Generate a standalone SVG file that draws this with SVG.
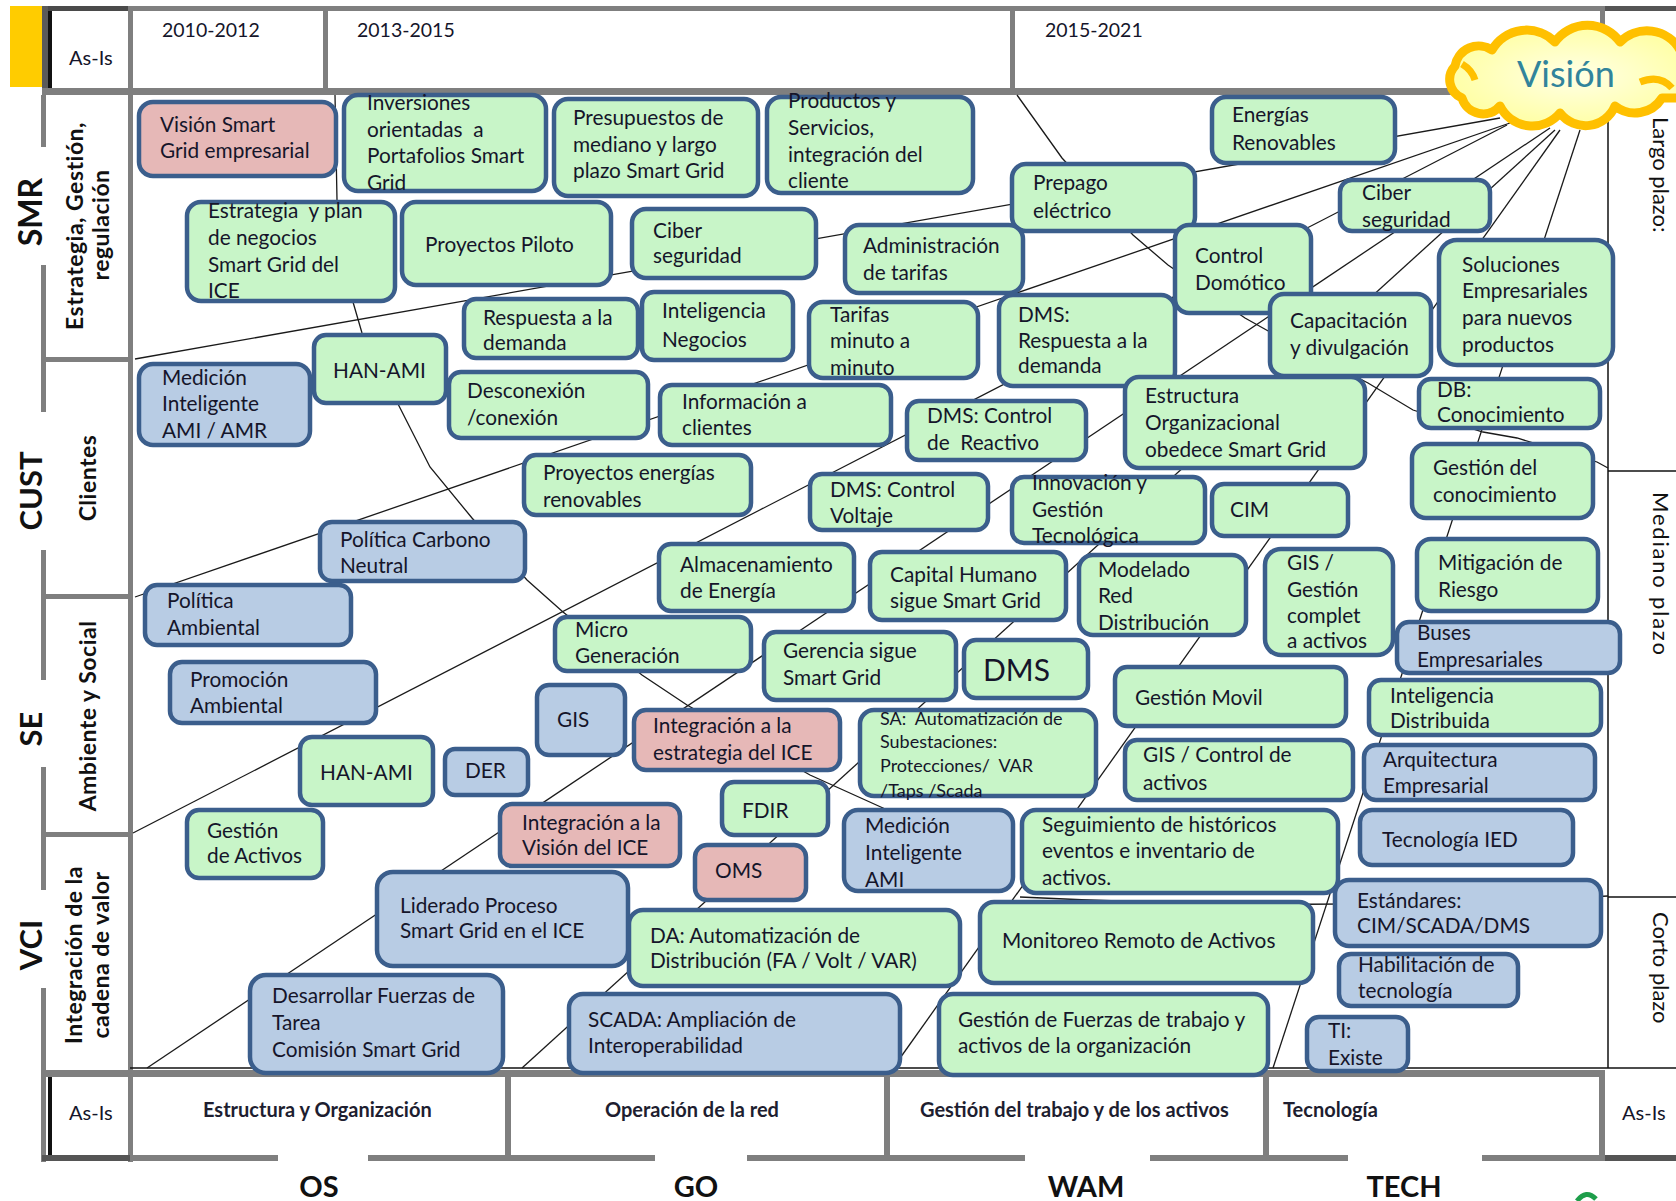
<svg xmlns="http://www.w3.org/2000/svg" width="1676" height="1201" viewBox="0 0 1676 1201">
<style>
.g{fill:#C8F5C8;stroke:#3B5E8C;stroke-width:4.5}
.b{fill:#B8CCE4;stroke:#3B5E8C;stroke-width:4.5}
.p{fill:#E6B8B7;stroke:#3B5E8C;stroke-width:4.5}
.t{font-family:Lato,"Liberation Sans",sans-serif;font-size:20.8px;fill:#15152A;white-space:pre}
.s{font-size:18px}
.big{font-size:30px}
.h{font-family:Lato,"Liberation Sans",sans-serif;font-size:19.5px;fill:#15152A}
.a{font-family:Lato,"Liberation Sans",sans-serif;font-size:20px;fill:#15152A}
.bl{font-family:Lato,"Liberation Sans",sans-serif;font-size:20px;font-weight:bold;fill:#1E1E30}
.rv{font-family:Lato,"Liberation Sans",sans-serif;font-size:22px;fill:#111}
.k{font-family:Lato,"Liberation Sans",sans-serif;font-weight:bold;fill:#111}
.lab{font-family:Lato,"Liberation Sans",sans-serif;font-weight:bold;font-size:23px;letter-spacing:0.5px;fill:#111}
.gr{fill:#7F7F7F}
.ln{stroke:#1A1A1A;stroke-width:1.3;fill:none}
</style>
<rect width="1676" height="1201" fill="#fff"/>
<g id="frame">
<rect x="10" y="6" width="32" height="81" fill="#FFCC00"/>
<rect class="gr" x="42" y="6" width="1634" height="5"/>
<rect x="42" y="6" width="86" height="5" fill="#4A4A4A"/>
<rect x="1605" y="6" width="71" height="5" fill="#555"/>
<rect x="42" y="6" width="6" height="82" fill="#5A5A5A"/>
<rect x="48" y="11" width="4" height="77" fill="#111"/>
<rect class="gr" x="128" y="6" width="5" height="1156"/>
<rect class="gr" x="323" y="6" width="5" height="86"/>
<rect class="gr" x="1010" y="6" width="5" height="86"/>
<rect class="gr" x="1600" y="6" width="5" height="86"/>
<rect class="gr" x="42" y="88" width="1563" height="7"/>
<rect class="gr" x="41" y="95" width="5" height="52"/>
<rect class="gr" x="41" y="265" width="5" height="147"/>
<rect class="gr" x="41" y="550" width="5" height="130"/>
<rect class="gr" x="41" y="767" width="5" height="123"/>
<rect class="gr" x="41" y="988" width="5" height="174"/>
<rect class="gr" x="43" y="357" width="88" height="5"/>
<rect class="gr" x="43" y="594" width="88" height="5"/>
<rect class="gr" x="43" y="832" width="88" height="5"/>
<line x1="130" y1="1068" x2="1676" y2="1068" stroke="#111" stroke-width="1.5"/>
<rect class="gr" x="42" y="1070" width="1563" height="7"/>
<rect x="48" y="1077" width="4" height="82" fill="#111"/>
<rect class="gr" x="505" y="1072" width="6" height="88"/>
<rect class="gr" x="884" y="1072" width="6" height="88"/>
<rect class="gr" x="1263" y="1072" width="6" height="88"/>
<rect class="gr" x="1599" y="1072" width="6" height="88"/>
<rect class="gr" x="42" y="1155" width="236" height="6"/>
<rect x="42" y="1155" width="88" height="6" fill="#555"/>
<rect class="gr" x="368" y="1155" width="287" height="6"/>
<rect class="gr" x="747" y="1155" width="278" height="6"/>
<rect class="gr" x="1150" y="1155" width="198" height="6"/>
<rect class="gr" x="1482" y="1155" width="194" height="6"/>
<rect x="1605" y="1155" width="71" height="6" fill="#555"/>
<line x1="1608" y1="112" x2="1608" y2="1068" stroke="#111" stroke-width="1.5"/>
<line x1="1608" y1="471" x2="1676" y2="471" stroke="#111" stroke-width="1.5"/>
<line x1="1608" y1="897" x2="1676" y2="897" stroke="#111" stroke-width="1.5"/>
<path d="M1577,1201 Q1586,1189 1596,1199" fill="none" stroke="#1E9E4A" stroke-width="5"/>
</g>
<g id="labels">
<text class="a" x="69" y="65">As-Is</text>
<text class="h" x="162" y="37">2010-2012</text>
<text class="h" x="357" y="37">2013-2015</text>
<text class="h" x="1045" y="37">2015-2021</text>
<text class="a" x="69" y="1120">As-Is</text>
<text class="bl" x="203" y="1117">Estructura y Organización</text>
<text class="bl" x="605" y="1117">Operación de la red</text>
<text class="bl" x="920" y="1117">Gestión del trabajo y de los activos</text>
<text class="bl" x="1283" y="1117">Tecnología</text>
<text class="a" x="1622" y="1120">As-Is</text>
<text class="k" x="319" y="1197" font-size="29" text-anchor="middle">OS</text>
<text class="k" x="696" y="1197" font-size="29" text-anchor="middle">GO</text>
<text class="k" x="1086" y="1197" font-size="29" text-anchor="middle">WAM</text>
<text class="k" x="1404" y="1197" font-size="29" text-anchor="middle">TECH</text>
<text class="k" font-size="32" text-anchor="middle" transform="translate(42,212) rotate(-90)">SMR</text>
<text class="k" font-size="31" text-anchor="middle" transform="translate(42,491) rotate(-90)">CUST</text>
<text class="k" font-size="31" text-anchor="middle" transform="translate(42,729) rotate(-90)">SE</text>
<text class="k" font-size="31" text-anchor="middle" transform="translate(42,945) rotate(-90)">VCI</text>
<text class="lab" text-anchor="middle" transform="translate(83,226) rotate(-90)">Estrategia, Gestión,</text>
<text class="lab" text-anchor="middle" transform="translate(109,225) rotate(-90)">regulación</text>
<text class="lab" text-anchor="middle" transform="translate(96,478) rotate(-90)">Clientes</text>
<text class="lab" text-anchor="middle" transform="translate(96,716) rotate(-90)">Ambiente y Social</text>
<text class="lab" text-anchor="middle" transform="translate(82,955) rotate(-90)">Integración de la</text>
<text class="lab" text-anchor="middle" transform="translate(109,955) rotate(-90)">cadena de valor</text>
<text class="rv" transform="translate(1653,117) rotate(90)">Largo plazo:</text>
<text class="rv" letter-spacing="1.8" transform="translate(1653,492) rotate(90)">Mediano plazo</text>
<text class="rv" transform="translate(1653,912) rotate(90)">Corto plazo</text>
</g>
<g id="connectors">
<line class="ln" x1="135" y1="359" x2="1500" y2="118"/>
<line class="ln" x1="135" y1="597" x2="1510" y2="123"/>
<line class="ln" x1="133" y1="833" x2="1507" y2="125"/>
<line class="ln" x1="147" y1="1068" x2="1550" y2="128"/>
<line class="ln" x1="522" y1="1068" x2="1555" y2="130"/>
<line class="ln" x1="893" y1="1068" x2="1560" y2="130"/>
<line class="ln" x1="1273" y1="1068" x2="1580" y2="130"/>
<polyline class="ln" points="335,95 337,200 353,302 362,333 430,467 472,518 527,580 563,612 642,675 687,705 810,775 883,808 905,818"/>
<polyline class="ln" points="1017,95 1062,158 1133,235 1168,265 1245,318 1270,332 1368,383 1413,410 1483,432 1517,438 1597,462 1608,468"/>
<path class="ln" d="M1020,897 Q1320,912 1608,896"/>
</g>
<g id="nodes">
<g id="n_vision_sg"><rect class="p" x="139" y="102" width="197" height="74" rx="14"/><text class="t"><tspan x="160" y="132">Visión Smart</tspan><tspan x="160" y="158">Grid empresarial</tspan></text></g>
<g id="n_inversiones"><rect class="g" x="344" y="95" width="202" height="96" rx="14"/><text class="t"><tspan x="367" y="110">Inversiones</tspan><tspan x="367" y="137">orientadas  a</tspan><tspan x="367" y="163">Portafolios Smart</tspan><tspan x="367" y="190">Grid</tspan></text></g>
<g id="n_presupuestos"><rect class="g" x="554" y="99" width="204" height="97" rx="14"/><text class="t"><tspan x="573" y="125">Presupuestos de</tspan><tspan x="573" y="152">mediano y largo</tspan><tspan x="573" y="178">plazo Smart Grid</tspan></text></g>
<g id="n_productos"><rect class="g" x="767" y="97" width="206" height="96" rx="14"/><text class="t"><tspan x="788" y="108">Productos y</tspan><tspan x="788" y="135">Servicios,</tspan><tspan x="788" y="162">integración del</tspan><tspan x="788" y="188">cliente</tspan></text></g>
<g id="n_estrategia"><rect class="g" x="187" y="202" width="208" height="99" rx="14"/><text class="t"><tspan x="208" y="218">Estrategia  y plan</tspan><tspan x="208" y="245">de negocios</tspan><tspan x="208" y="272">Smart Grid del</tspan><tspan x="208" y="298">ICE</tspan></text></g>
<g id="n_piloto"><rect class="g" x="402" y="202" width="209" height="83" rx="14"/><text class="t"><tspan x="425" y="252">Proyectos Piloto</tspan></text></g>
<g id="n_ciber1"><rect class="g" x="632" y="209" width="184" height="69" rx="14"/><text class="t"><tspan x="653" y="238">Ciber</tspan><tspan x="653" y="263">seguridad</tspan></text></g>
<g id="n_energias"><rect class="g" x="1212" y="97" width="183" height="66" rx="14"/><text class="t"><tspan x="1232" y="122">Energías</tspan><tspan x="1232" y="150">Renovables</tspan></text></g>
<g id="n_prepago"><rect class="g" x="1012" y="164" width="183" height="67" rx="14"/><text class="t"><tspan x="1033" y="190">Prepago</tspan><tspan x="1033" y="218">eléctrico</tspan></text></g>
<g id="n_admin"><rect class="g" x="845" y="225" width="178" height="68" rx="14"/><text class="t"><tspan x="863" y="253">Administración</tspan><tspan x="863" y="280">de tarifas</tspan></text></g>
<g id="n_ciber2"><rect class="g" x="1340" y="180" width="150" height="51" rx="12"/><text class="t"><tspan x="1362" y="200">Ciber</tspan><tspan x="1362" y="227">seguridad</tspan></text></g>
<g id="n_domotico"><rect class="g" x="1175" y="225" width="136" height="88" rx="14"/><text class="t"><tspan x="1195" y="263">Control</tspan><tspan x="1195" y="290">Domótico</tspan></text></g>
<g id="n_soluciones"><rect class="g" x="1439" y="240" width="174" height="125" rx="18"/><text class="t"><tspan x="1462" y="272">Soluciones</tspan><tspan x="1462" y="298">Empresariales</tspan><tspan x="1462" y="325">para nuevos</tspan><tspan x="1462" y="352">productos</tspan></text></g>
<g id="n_capacitacion"><rect class="g" x="1270" y="294" width="161" height="82" rx="14"/><text class="t"><tspan x="1290" y="328">Capacitación</tspan><tspan x="1290" y="355">y divulgación</tspan></text></g>
<g id="n_tarifas"><rect class="g" x="809" y="302" width="169" height="76" rx="14"/><text class="t"><tspan x="830" y="322">Tarifas</tspan><tspan x="830" y="348">minuto a</tspan><tspan x="830" y="375">minuto</tspan></text></g>
<g id="n_dms_resp"><rect class="g" x="999" y="295" width="176" height="91" rx="14"/><text class="t"><tspan x="1018" y="322">DMS:</tspan><tspan x="1018" y="348">Respuesta a la</tspan><tspan x="1018" y="373">demanda</tspan></text></g>
<g id="n_respuesta"><rect class="g" x="464" y="299" width="174" height="59" rx="12"/><text class="t"><tspan x="483" y="325">Respuesta a la</tspan><tspan x="483" y="350">demanda</tspan></text></g>
<g id="n_inteligencia"><rect class="g" x="642" y="292" width="151" height="68" rx="12"/><text class="t"><tspan x="662" y="318">Inteligencia</tspan><tspan x="662" y="347">Negocios</tspan></text></g>
<g id="n_han1"><rect class="g" x="314" y="335" width="132" height="68" rx="12"/><text class="t"><tspan x="333" y="378">HAN-AMI</tspan></text></g>
<g id="n_medicion1"><rect class="b" x="139" y="364" width="171" height="81" rx="14"/><text class="t"><tspan x="162" y="385">Medición</tspan><tspan x="162" y="411">Inteligente</tspan><tspan x="162" y="438">AMI / AMR</tspan></text></g>
<g id="n_desconexion"><rect class="g" x="449" y="372" width="199" height="66" rx="12"/><text class="t"><tspan x="467" y="398">Desconexión</tspan><tspan x="467" y="425">/conexión</tspan></text></g>
<g id="n_informacion"><rect class="g" x="660" y="385" width="231" height="60" rx="12"/><text class="t"><tspan x="682" y="409">Información a</tspan><tspan x="682" y="435">clientes</tspan></text></g>
<g id="n_dms_reactivo"><rect class="g" x="907" y="401" width="179" height="59" rx="12"/><text class="t"><tspan x="927" y="423">DMS: Control</tspan><tspan x="927" y="450">de  Reactivo</tspan></text></g>
<g id="n_estructura"><rect class="g" x="1125" y="377" width="240" height="91" rx="14"/><text class="t"><tspan x="1145" y="403">Estructura</tspan><tspan x="1145" y="430">Organizacional</tspan><tspan x="1145" y="457">obedece Smart Grid</tspan></text></g>
<g id="n_db"><rect class="g" x="1419" y="379" width="181" height="49" rx="12"/><text class="t"><tspan x="1437" y="397">DB:</tspan><tspan x="1437" y="422">Conocimiento</tspan></text></g>
<g id="n_proy_energias"><rect class="g" x="524" y="455" width="227" height="60" rx="12"/><text class="t"><tspan x="543" y="480">Proyectos energías</tspan><tspan x="543" y="507">renovables</tspan></text></g>
<g id="n_dms_voltaje"><rect class="g" x="810" y="474" width="178" height="56" rx="12"/><text class="t"><tspan x="830" y="497">DMS: Control</tspan><tspan x="830" y="523">Voltaje</tspan></text></g>
<g id="n_innovacion"><rect class="g" x="1012" y="477" width="193" height="66" rx="12"/><text class="t"><tspan x="1032" y="490">Innovación y</tspan><tspan x="1032" y="517">Gestión</tspan><tspan x="1032" y="543">Tecnológica</tspan></text></g>
<g id="n_cim"><rect class="g" x="1212" y="484" width="136" height="52" rx="12"/><text class="t"><tspan x="1230" y="517">CIM</tspan></text></g>
<g id="n_gestion_con"><rect class="g" x="1412" y="444" width="181" height="74" rx="14"/><text class="t"><tspan x="1433" y="475">Gestión del</tspan><tspan x="1433" y="502">conocimiento</tspan></text></g>
<g id="n_carbono"><rect class="b" x="320" y="522" width="205" height="59" rx="12"/><text class="t"><tspan x="340" y="547">Política Carbono</tspan><tspan x="340" y="573">Neutral</tspan></text></g>
<g id="n_pol_amb"><rect class="b" x="145" y="585" width="206" height="60" rx="12"/><text class="t"><tspan x="167" y="608">Política</tspan><tspan x="167" y="635">Ambiental</tspan></text></g>
<g id="n_almacen"><rect class="g" x="659" y="544" width="195" height="67" rx="12"/><text class="t"><tspan x="680" y="572">Almacenamiento</tspan><tspan x="680" y="598">de Energía</tspan></text></g>
<g id="n_capital"><rect class="g" x="870" y="552" width="196" height="68" rx="12"/><text class="t"><tspan x="890" y="582">Capital Humano</tspan><tspan x="890" y="608">sigue Smart Grid</tspan></text></g>
<g id="n_modelado"><rect class="g" x="1079" y="555" width="167" height="80" rx="14"/><text class="t"><tspan x="1098" y="577">Modelado</tspan><tspan x="1098" y="603">Red</tspan><tspan x="1098" y="630">Distribución</tspan></text></g>
<g id="n_gis_gestion"><rect class="g" x="1265" y="549" width="128" height="106" rx="16"/><text class="t"><tspan x="1287" y="570">GIS /</tspan><tspan x="1287" y="597">Gestión</tspan><tspan x="1287" y="623">complet</tspan><tspan x="1287" y="648">a activos</tspan></text></g>
<g id="n_mitigacion"><rect class="g" x="1417" y="539" width="181" height="72" rx="14"/><text class="t"><tspan x="1438" y="570">Mitigación de</tspan><tspan x="1438" y="597">Riesgo</tspan></text></g>
<g id="n_micro"><rect class="g" x="555" y="617" width="196" height="54" rx="12"/><text class="t"><tspan x="575" y="637">Micro</tspan><tspan x="575" y="663">Generación</tspan></text></g>
<g id="n_gerencia"><rect class="g" x="764" y="632" width="192" height="68" rx="12"/><text class="t"><tspan x="783" y="658">Gerencia sigue</tspan><tspan x="783" y="685">Smart Grid</tspan></text></g>
<g id="n_dms"><rect class="g" x="964" y="640" width="124" height="58" rx="12"/><text class="t big"><tspan x="983" y="681">DMS</tspan></text></g>
<g id="n_movil"><rect class="g" x="1115" y="667" width="231" height="59" rx="12"/><text class="t"><tspan x="1135" y="705">Gestión Movil</tspan></text></g>
<g id="n_buses"><rect class="b" x="1397" y="622" width="223" height="51" rx="12"/><text class="t"><tspan x="1417" y="640">Buses</tspan><tspan x="1417" y="667">Empresariales</tspan></text></g>
<g id="n_int_dist"><rect class="g" x="1369" y="680" width="232" height="55" rx="12"/><text class="t"><tspan x="1390" y="703">Inteligencia</tspan><tspan x="1390" y="728">Distribuida</tspan></text></g>
<g id="n_promocion"><rect class="b" x="170" y="662" width="206" height="61" rx="12"/><text class="t"><tspan x="190" y="687">Promoción</tspan><tspan x="190" y="713">Ambiental</tspan></text></g>
<g id="n_gis"><rect class="b" x="537" y="685" width="88" height="70" rx="12"/><text class="t"><tspan x="557" y="727">GIS</tspan></text></g>
<g id="n_int_estrategia"><rect class="p" x="634" y="710" width="206" height="60" rx="12"/><text class="t"><tspan x="653" y="733">Integración a la</tspan><tspan x="653" y="760">estrategia del ICE</tspan></text></g>
<g id="n_sa"><rect class="g" x="860" y="710" width="236" height="86" rx="14"/><text class="t s"><tspan x="880" y="725">SA:  Automatización de</tspan><tspan x="880" y="748">Subestaciones:</tspan><tspan x="880" y="772">Protecciones/  VAR</tspan><tspan x="880" y="797">/Taps /Scada</tspan></text></g>
<g id="n_gis_control"><rect class="g" x="1125" y="740" width="228" height="60" rx="12"/><text class="t"><tspan x="1143" y="762">GIS / Control de</tspan><tspan x="1143" y="790">activos</tspan></text></g>
<g id="n_arquitectura"><rect class="b" x="1364" y="745" width="231" height="55" rx="12"/><text class="t"><tspan x="1383" y="767">Arquitectura</tspan><tspan x="1383" y="793">Empresarial</tspan></text></g>
<g id="n_han2"><rect class="g" x="300" y="737" width="133" height="68" rx="12"/><text class="t"><tspan x="320" y="780">HAN-AMI</tspan></text></g>
<g id="n_der"><rect class="b" x="445" y="749" width="83" height="46" rx="10"/><text class="t"><tspan x="465" y="778">DER</tspan></text></g>
<g id="n_gest_activos"><rect class="g" x="187" y="810" width="136" height="68" rx="12"/><text class="t"><tspan x="207" y="838">Gestión</tspan><tspan x="207" y="863">de Activos</tspan></text></g>
<g id="n_int_vision"><rect class="p" x="500" y="804" width="180" height="62" rx="12"/><text class="t"><tspan x="522" y="830">Integración a la</tspan><tspan x="522" y="855">Visión del ICE</tspan></text></g>
<g id="n_fdir"><rect class="g" x="722" y="782" width="106" height="53" rx="12"/><text class="t"><tspan x="742" y="818">FDIR</tspan></text></g>
<g id="n_oms"><rect class="p" x="695" y="845" width="111" height="55" rx="12"/><text class="t"><tspan x="715" y="878">OMS</tspan></text></g>
<g id="n_medicion2"><rect class="b" x="844" y="810" width="169" height="81" rx="14"/><text class="t"><tspan x="865" y="833">Medición</tspan><tspan x="865" y="860">Inteligente</tspan><tspan x="865" y="887">AMI</tspan></text></g>
<g id="n_seguimiento"><rect class="g" x="1022" y="810" width="316" height="83" rx="14"/><text class="t"><tspan x="1042" y="832">Seguimiento de históricos</tspan><tspan x="1042" y="858">eventos e inventario de</tspan><tspan x="1042" y="885">activos.</tspan></text></g>
<g id="n_ied"><rect class="b" x="1360" y="810" width="213" height="55" rx="12"/><text class="t"><tspan x="1382" y="847">Tecnología IED</tspan></text></g>
<g id="n_liderado"><rect class="b" x="377" y="872" width="251" height="94" rx="16"/><text class="t"><tspan x="400" y="913">Liderado Proceso</tspan><tspan x="400" y="938">Smart Grid en el ICE</tspan></text></g>
<g id="n_da"><rect class="g" x="629" y="910" width="331" height="76" rx="14"/><text class="t"><tspan x="650" y="943">DA: Automatización de</tspan><tspan x="650" y="968">Distribución (FA / Volt / VAR)</tspan></text></g>
<g id="n_monitoreo"><rect class="g" x="980" y="902" width="333" height="81" rx="14"/><text class="t"><tspan x="1002" y="948">Monitoreo Remoto de Activos</tspan></text></g>
<g id="n_estandares"><rect class="b" x="1335" y="880" width="266" height="66" rx="14"/><text class="t"><tspan x="1357" y="908">Estándares:</tspan><tspan x="1357" y="933">CIM/SCADA/DMS</tspan></text></g>
<g id="n_habilitacion"><rect class="b" x="1339" y="954" width="179" height="52" rx="12"/><text class="t"><tspan x="1358" y="972">Habilitación de</tspan><tspan x="1358" y="998">tecnología</tspan></text></g>
<g id="n_desarrollar"><rect class="b" x="250" y="975" width="253" height="98" rx="16"/><text class="t"><tspan x="272" y="1003">Desarrollar Fuerzas de</tspan><tspan x="272" y="1030">Tarea</tspan><tspan x="272" y="1057">Comisión Smart Grid</tspan></text></g>
<g id="n_scada"><rect class="b" x="569" y="994" width="331" height="79" rx="14"/><text class="t"><tspan x="588" y="1027">SCADA: Ampliación de</tspan><tspan x="588" y="1053">Interoperabilidad</tspan></text></g>
<g id="n_gest_fuerzas"><rect class="g" x="939" y="994" width="329" height="81" rx="14"/><text class="t"><tspan x="958" y="1027">Gestión de Fuerzas de trabajo y</tspan><tspan x="958" y="1053">activos de la organización</tspan></text></g>
<g id="n_ti"><rect class="b" x="1307" y="1017" width="101" height="54" rx="12"/><text class="t"><tspan x="1328" y="1038">TI:</tspan><tspan x="1328" y="1065">Existe</tspan></text></g>
</g>
<g id="n_vision_cloud">
<defs><radialGradient id="cg" cx="0.5" cy="0.5" r="0.6"><stop offset="0" stop-color="#FFFFE6"/><stop offset="1" stop-color="#FFFF99"/></radialGradient></defs>
<path d="M1462,98 A20,20 0 0 1 1455,66 A24,24 0 0 1 1492,50 A40,40 0 0 1 1555,42 A40,40 0 0 1 1620,42 A38,38 0 0 1 1680,50 L1700,50 L1700,98 L1662,98 A32,32 0 0 1 1615,106 A32,32 0 0 1 1560,113 A36,36 0 0 1 1500,106 A22,22 0 0 1 1462,98 Z" fill="url(#cg)" stroke="#FFC000" stroke-width="9" stroke-linejoin="round"/>
<path d="M1462,64 Q1472,70 1475,80" fill="none" stroke="#FFC000" stroke-width="7"/>
<path d="M1640,82 Q1660,74 1672,88" fill="none" stroke="#FFC000" stroke-width="7"/>
<text x="1517" y="87" font-family="Lato,'Liberation Sans',sans-serif" font-size="36" fill="#31849B">Visión</text>
</g>
</svg>
